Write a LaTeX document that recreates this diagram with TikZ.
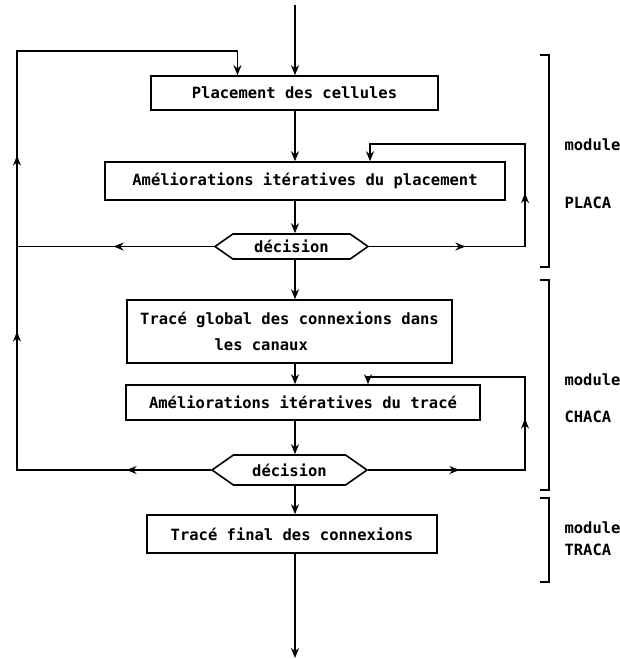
\documentclass[tikz,border=0pt]{standalone}
\usepackage{fontspec}
\setmonofont{DejaVu Sans Mono}
\usetikzlibrary{arrows.meta,positioning,shapes.symbols,decorations.markings}

\begin{document}
\begin{tikzpicture}[x=1pt, y=-1pt,
    font=\ttfamily\bfseries\fontsize{15.5}{20}\selectfont,
    box/.style={draw, line width=1.6pt, inner sep=0pt},
    decide/.style={draw, line width=1.6pt, shape=signal, signal to=east and west,
      signal pointer angle=70, inner sep=0pt},
    flow/.style={line width=2.2pt, -{Stealth[length=10pt,width=8pt]}},
    back/.style={line width=1.6pt},
    tipat/.style={postaction={decorate, decoration={markings,
      mark=at position #1 with {\arrow{Stealth[length=10pt,width=8pt]}}}}},
  ]
        \useasboundingbox (0,0) rectangle (620,659);

        % the chain of steps
        \node[box, minimum width=287pt, minimum height=34pt] (place) at (294.5,93) {Placement des cellules};
        \node[box, minimum width=400pt, minimum height=38pt] (iterplace) at (305,181) {Améliorations itératives du placement};
        \node[decide, minimum width=153pt, minimum height=25pt] (decplace) at (291.5,246.5) {décision};
        \node[box, minimum width=325pt, minimum height=63pt, align=left] (global) at (289.5,331.5) {Tracé global des connexions dans\\[6pt]\hspace*{4.8em}les canaux};
        \node[box, minimum width=354pt, minimum height=35pt] (itertrace) at (303,402.5) {Améliorations itératives du tracé};
        \node[decide, minimum width=155pt, minimum height=30pt] (dectrace) at (289.5,470) {décision};
        \node[box, minimum width=290pt, minimum height=38pt] (final) at (292,534) {Tracé final des connexions};

        \coordinate (start) at (295,5);
        \coordinate (stop) at (295,658);
        \coordinate (upleft) at (17,51);
        \coordinate (upright) at (525,144);
        \coordinate (upright2) at (525,377);

        \draw[flow] (start) -- (start |- place.north);
        \draw[flow] (place.south -| start) -- (iterplace.north -| start);
        \draw[flow] (iterplace.south -| start) -- (decplace.north -| start);
        \draw[flow] (decplace.south -| start) -- (global.north -| start);
        \draw[flow] (global.south -| start) -- (itertrace.north -| start);
        \draw[flow] (itertrace.south -| start) -- (dectrace.north -| start);
        \draw[flow] (dectrace.south -| start) -- (final.north -| start);
        \draw[flow] (final.south -| start) -- (stop);

        % loops back
        \draw[back, tipat=100pt] (decplace.west) -- (decplace.west -| upleft);
        \draw[back, -{Stealth[length=10pt,width=8pt]}, tipat=84pt, tipat=332pt, tipat=508pt]
          (dectrace.west) -| (upleft) -| ([xshift=-57pt]place.north);
        \draw[back, -{Stealth[length=10pt,width=8pt]}, tipat=96pt, tipat=209pt]
          (decplace.east) -| (upright) -| ([xshift=65pt]iterplace.north);
        \draw[back, -{Stealth[length=10pt,width=8pt]}, tipat=91pt, tipat=208pt]
          (dectrace.east) -| (upright2) -| ([xshift=65pt]itertrace.north);

        % modules
        \draw[back] (540,55) -| (549,267) -- (540,267);
        \draw[back] (540,280) -| (549,490) -- (540,490);
        \draw[back] (540,498) -| (549,582) -- (540,582);
        \node[anchor=west] (modplaca) at (561,145) {module};
        \node[anchor=west] (placa) at (561,203) {PLACA};
        \node[anchor=west] (modchaca) at (561,380) {module};
        \node[anchor=west] (chaca) at (561,417) {CHACA};
        \node[anchor=west] (modtraca) at (561,528) {module};
        \node[anchor=west] (traca) at (561,550) {TRACA};
\end{tikzpicture}
\end{document}
